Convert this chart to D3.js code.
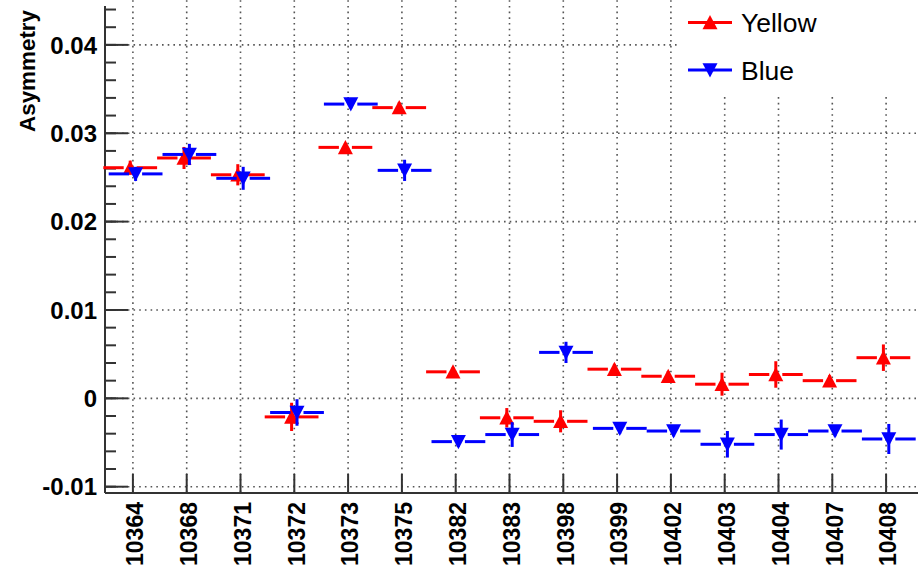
<!DOCTYPE html>
<html>
<head>
<meta charset="utf-8">
<script src="https://cdn.jsdelivr.net/npm/d3@7"></script>
<style>
  body { margin: 0; background: #fff; }
  svg { display: block; font-family: "Liberation Sans", Arial, Helvetica, sans-serif; }
  .tick-label { font-weight: bold; fill: #000; }
</style>
</head>
<body>
<div id="chart"></div>
<script>
const runs = ["10364", "10368", "10371", "10372", "10373", "10375", "10382", "10383",
              "10398", "10399", "10402", "10403", "10404", "10407", "10408"];
const yellowVal = [0.0261, 0.0272, 0.0253, -0.0021, 0.0284, 0.0329, 0.0030, -0.0022,
                   -0.0026, 0.0033, 0.0025, 0.0016, 0.0027, 0.0020, 0.0046];
const yellowErr = [0.0008, 0.00125, 0.0012, 0.0016, 0.0005, 0.0006, 0.0005, 0.0011,
                   0.00125, 0.0006, 0.0006, 0.0013, 0.0015, 0.0006, 0.0015];
const blueVal = [0.0254, 0.0276, 0.0249, -0.0016, 0.0333, 0.0258, -0.0049, -0.0041,
                 0.0052, -0.0034, -0.0037, -0.0052, -0.0041, -0.0037, -0.0046];
const blueErr = [0.0008, 0.0012, 0.0013, 0.0015, 0.0005, 0.0012, 0.0006, 0.0014,
                 0.0012, 0.0006, 0.0006, 0.0015, 0.0017, 0.0006, 0.0017];
const yMajor = [-0.01, 0, 0.01, 0.02, 0.03, 0.04];
const yMajorLabels = ["-0.01", "0", "0.01", "0.02", "0.03", "0.04"];
const yMinorStep = 0.002;

const W = 918, H = 568;
const plotLeft = 105, plotRight = 913, plotTop = 6, plotBottom = 492;

const svg = d3.select("#chart").append("svg")
    .attr("width", W)
    .attr("height", H);

const x = d3.scaleBand()
    .domain(runs)
    .range([plotLeft + 1, plotRight])
    .paddingInner(0)
    .paddingOuter(0);

const y = d3.scaleLinear()
    .domain([-0.0106, 0.0444])
    .range([plotBottom, plotTop]);

const cx = d => x(d) + x.bandwidth() / 2;

// grid
const grid = svg.append("g").attr("stroke", "#555").attr("stroke-width", 1.6)
    .attr("stroke-dasharray", "1.6,4.1");
grid.selectAll(".vg").data(runs).enter().append("line")
    .attr("x1", d => cx(d)).attr("x2", d => cx(d))
    .attr("y1", plotBottom).attr("y2", 0);
grid.selectAll(".hg").data(yMajor).enter().append("line")
    .attr("x1", plotLeft).attr("x2", W)
    .attr("y1", d => y(d)).attr("y2", d => y(d));

// axes
const axisColor = "#333";
const minor = d3.range(-0.01, 0.0445, yMinorStep);
svg.append("g").selectAll("line").data(minor).enter().append("line")
    .attr("x1", plotLeft).attr("x2", plotLeft + 11)
    .attr("y1", d => y(d)).attr("y2", d => y(d))
    .attr("stroke", axisColor).attr("stroke-width", 2);
svg.append("g").selectAll("line").data(yMajor).enter().append("line")
    .attr("x1", plotLeft).attr("x2", plotLeft + 23)
    .attr("y1", d => y(d)).attr("y2", d => y(d))
    .attr("stroke", axisColor).attr("stroke-width", 2);
svg.append("line")
    .attr("x1", plotLeft).attr("x2", plotLeft).attr("y1", plotTop).attr("y2", plotBottom + 1)
    .attr("stroke", axisColor).attr("stroke-width", 2);

svg.append("g").selectAll("line").data(runs).enter().append("line")
    .attr("x1", d => cx(d)).attr("x2", d => cx(d))
    .attr("y1", plotBottom).attr("y2", plotBottom - 18)
    .attr("stroke", axisColor).attr("stroke-width", 2);
svg.append("line")
    .attr("x1", plotLeft).attr("x2", W).attr("y1", plotBottom + 1).attr("y2", plotBottom + 1)
    .attr("stroke", axisColor).attr("stroke-width", 2);

svg.append("g").selectAll("text").data(yMajor).enter().append("text")
    .attr("class", "tick-label")
    .attr("font-size", 24)
    .attr("x", 97)
    .attr("y", d => y(d))
    .attr("dy", "0.36em")
    .attr("text-anchor", "end")
    .text((d, i) => yMajorLabels[i]);

svg.append("g").selectAll("text").data(runs).enter().append("text")
    .attr("class", "tick-label")
    .attr("font-size", 23)
    .attr("transform", d => `translate(${cx(d) + 2},502) rotate(-90)`)
    .attr("dy", "0.36em")
    .attr("text-anchor", "end")
    .text(d => d);

svg.append("text")
    .attr("transform", "translate(35,10) rotate(-90)")
    .attr("text-anchor", "end")
    .attr("font-weight", "bold")
    .attr("font-size", 22.4)
    .text("Asymmetry");

// markers
const ms = 7.5;
const upTri = `M0,${-ms}L${ms},${ms * 0.9}L${-ms},${ms * 0.9}Z`;
const downTri = `M0,${ms}L${ms},${-ms * 0.9}L${-ms},${-ms * 0.9}Z`;

function drawSeries(vals, errs, color, shift, path) {
    const g = svg.append("g");
    const hw = x.bandwidth() / 2;
    const data = runs.map((r, i) => ({ r, v: vals[i], e: errs[i] }));
    const px = d => cx(d.r) + shift;
    g.selectAll(".hl").data(data).enter().append("line")
        .attr("x1", d => px(d) - hw).attr("x2", d => px(d) - ms + 1)
        .attr("y1", d => y(d.v)).attr("y2", d => y(d.v))
        .attr("stroke", color).attr("stroke-width", 3);
    g.selectAll(".hr").data(data).enter().append("line")
        .attr("x1", d => px(d) + ms - 1).attr("x2", d => px(d) + hw)
        .attr("y1", d => y(d.v)).attr("y2", d => y(d.v))
        .attr("stroke", color).attr("stroke-width", 3);
    g.selectAll(".vl").data(data).enter().append("line")
        .attr("x1", d => px(d)).attr("x2", d => px(d))
        .attr("y1", d => y(d.v + d.e)).attr("y2", d => y(d.v - d.e))
        .attr("stroke", color).attr("stroke-width", 3);
    g.selectAll("path").data(data).enter().append("path")
        .attr("d", path)
        .attr("transform", d => `translate(${px(d)},${y(d.v)})`)
        .attr("fill", color);
}

drawSeries(yellowVal, yellowErr, "#ff0000", -2.7, upTri);
drawSeries(blueVal, blueErr, "#0000ff", 2.7, downTri);

// legend
const legend = svg.append("g");
legend.append("rect").attr("x", 678).attr("y", 0).attr("width", 240).attr("height", 96)
    .attr("fill", "#fff");
const entries = [
    { name: "Yellow", color: "#ff0000", path: upTri, y: 22.5 },
    { name: "Blue", color: "#0000ff", path: downTri, y: 70 }
];
entries.forEach(e => {
    legend.append("line").attr("x1", 688).attr("x2", 732).attr("y1", e.y).attr("y2", e.y)
        .attr("stroke", e.color).attr("stroke-width", 3);
    legend.append("path").attr("d", e.path).attr("transform", `translate(710,${e.y})`)
        .attr("fill", e.color);
    legend.append("text").attr("x", 741).attr("y", e.y).attr("dy", "0.36em")
        .attr("font-size", 26.5).attr("fill", "#000").text(e.name);
});
</script>
</body>
</html>
